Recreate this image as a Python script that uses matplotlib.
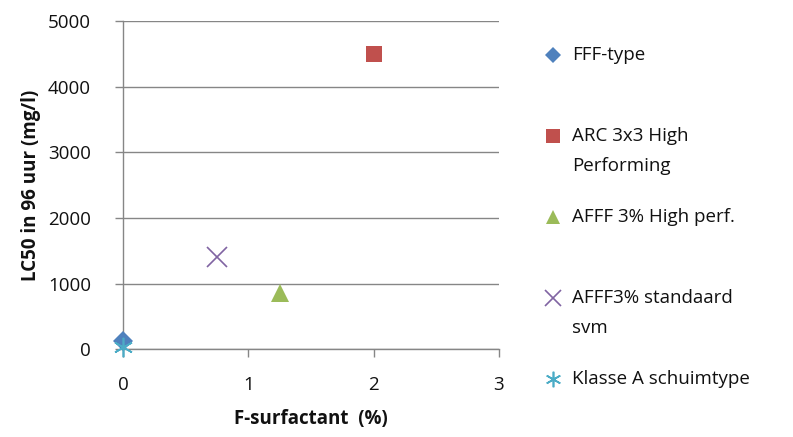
import matplotlib.pyplot as plt

plt.rcParams['font.family'] = ['Open Sans', 'DejaVu Sans']

# LC50 (96 h) against fluorosurfactant content per foam type
labels = ['FFF-type', 'ARC 3x3 High\nPerforming', 'AFFF 3% High perf.',
          'AFFF3% standaard\nsvm', 'Klasse A schuimtype']
surfactant = [0.0, 2.0, 1.25, 0.75, 0.0]
lc50 = [130, 4500, 850, 1400, 40]

colors = ['#4F81BD', '#C0504D', '#9BBB59', '#8064A2', '#4BACC6']
markers = ['D', 's', '^', 'x', (6, 2, 0)]
sizes = [10, 12, 13, 15, 14]
filled = [True, True, True, False, False]

grey = '#868686'
ink = '#111111'

fig = plt.figure(figsize=(7.93, 4.37), dpi=100)
ax = fig.add_axes([0.155, 0.201, 0.474, 0.751])

ax.set_xlim(0, 3)
ax.set_ylim(0, 5000)
ax.set_xticks([0, 1, 2, 3])
ax.set_yticks(range(0, 5001, 1000))
ax.yaxis.grid(True, color=grey, linewidth=1)
ax.set_axisbelow(True)

for side in ['top', 'right']:
    ax.spines[side].set_visible(False)
for side in ['left', 'bottom']:
    ax.spines[side].set_color(grey)
    ax.spines[side].set_linewidth(1)
ax.tick_params(axis='both', colors=grey, length=6, width=1,
               labelsize=13.5, labelcolor=ink)
ax.tick_params(axis='x', pad=13)
ax.tick_params(axis='y', pad=17)

for x, y, c, m, s, f in zip(surfactant, lc50, colors, markers, sizes, filled):
    ax.plot([x], [y], linestyle='none', marker=m, markersize=s,
            color=c, markeredgewidth=1.2 if not f else 0, clip_on=False, zorder=5)

ax.set_xlabel('F-surfactant  (%)', fontsize=13.5, fontweight='bold',
              labelpad=11, color=ink)
ax.set_ylabel('LC50 in 96 uur (mg/l)', fontsize=13.5, fontweight='bold',
              labelpad=5, color=ink)

# legend drawn by hand so each marker sits on the first line of its label
legend_top = 55
legend_step = 81
for i, (lab, c, m, s, f) in enumerate(zip(labels, colors, markers, sizes, filled)):
    ypix = legend_top + i * legend_step
    yf = 1 - ypix / 437
    fig.lines.append(plt.Line2D([553 / 793], [yf], transform=fig.transFigure,
                                linestyle='none', marker=m, markersize=s * 0.8,
                                color=c, markeredgewidth=1.2 if not f else 0))
    fig.text(572 / 793, yf + 9 / 437, lab, fontsize=13.5, va='top', ha='left',
             color=ink, linespacing=1.85)

fig.savefig('out.png', dpi=100)
